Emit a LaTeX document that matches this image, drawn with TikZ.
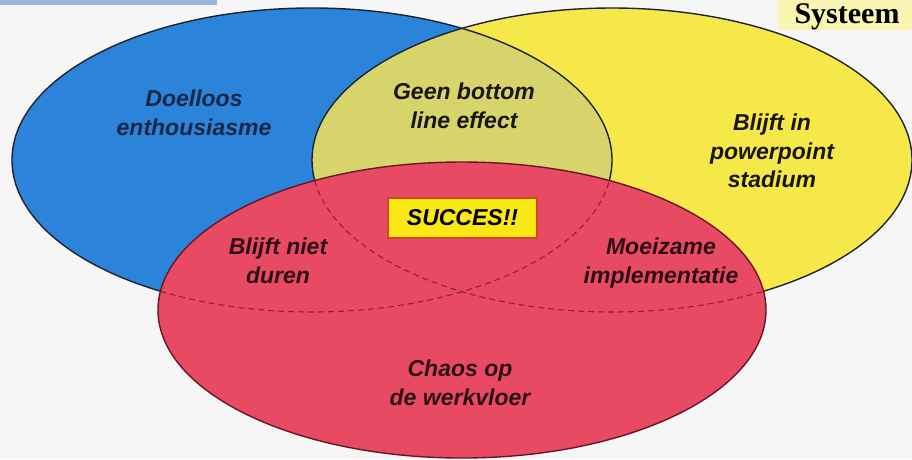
\documentclass[tikz,border=0pt]{standalone}
\usepackage{fontspec}
\setmainfont{Liberation Sans}
\newfontfamily\titlefont{Liberation Serif}
\definecolor{bgC}{RGB}{246,246,246}
\definecolor{barC}{RGB}{150,182,222}
\definecolor{sysC}{RGB}{250,245,178}
\definecolor{blueC}{RGB}{44,132,218}
\definecolor{yellowC}{RGB}{246,232,72}
\definecolor{oliveC}{RGB}{214,212,106}
\definecolor{redC}{RGB}{232,74,100}
\definecolor{lineC}{RGB}{30,35,50}
\definecolor{redline}{RGB}{150,30,50}
\definecolor{succC}{RGB}{250,232,20}
\definecolor{succB}{RGB}{205,70,40}
\definecolor{navyT}{RGB}{25,40,72}
\definecolor{darkT}{RGB}{25,22,15}
\definecolor{maroonT}{RGB}{45,15,22}
\begin{document}
\begin{tikzpicture}[x=1pt,y=-1pt,
  lbl/.style={font=\fontsize{23}{28.5}\selectfont\bfseries\itshape, align=center, inner sep=0pt},
  outl/.style={draw=lineC, line width=1.4pt},
  hidden/.style={draw=redline, line width=1.1pt, dash pattern=on 6pt off 4pt}]
\useasboundingbox (0,0) rectangle (912,459);
\clip (0,0) rectangle (912,459);
\fill[bgC] (0,0) rectangle (912,459);
% top decorations
\fill[barC] (0,0) rectangle (217,5);
\fill[sysC] (778,0) rectangle (912,30);
\node[anchor=base, inner sep=0pt, text height=20pt, text depth=6pt,
      font=\titlefont\fontsize{30}{34}\selectfont\bfseries] (sys) at (847,23) {Systeem};
% blue and yellow
\fill[blueC] (312,160) ellipse [x radius=300pt, y radius=152pt];
\fill[yellowC] (612,160) ellipse [x radius=300pt, y radius=152pt];
\begin{scope}
  \clip (312,160) ellipse [x radius=300pt, y radius=152pt];
  \fill[oliveC] (612,160) ellipse [x radius=300pt, y radius=152pt];
\end{scope}
\draw[outl] (312,160) ellipse [x radius=300pt, y radius=152pt];
\draw[outl] (612,160) ellipse [x radius=300pt, y radius=152pt];
% red
\fill[redC] (462,310) ellipse [x radius=304pt, y radius=148pt];
\begin{scope}
  \clip (462,310) ellipse [x radius=304pt, y radius=148pt];
  \draw[hidden] (312,160) ellipse [x radius=300pt, y radius=152pt];
  \draw[hidden] (612,160) ellipse [x radius=300pt, y radius=152pt];
\end{scope}
\draw[draw=redline!70!black, line width=1.4pt] (462,310) ellipse [x radius=304pt, y radius=148pt];
% labels
\node[lbl, text=navyT] (doel) at (194,113) {Doelloos\\enthousiasme};
\node[lbl, text=darkT] (geen) at (464,106) {Geen bottom\\line effect};
\node[lbl, text=darkT] (blijftin) at (772,151) {Blijft in\\powerpoint\\stadium};
\node[lbl, text=maroonT] (niet) at (278,261) {Blijft niet\\duren};
\node[lbl, text=maroonT] (moei) at (661,263) {Moeizame\\implementatie};
\node[lbl, text=maroonT] (chaos) at (460,383) {Chaos op\\de werkvloer};
\node[lbl, text=black, fill=succC, draw=succB, line width=2pt,
      minimum width=149pt, minimum height=40pt] (succes) at (462.5,218) {SUCCES!!};
\end{tikzpicture}
\end{document}
